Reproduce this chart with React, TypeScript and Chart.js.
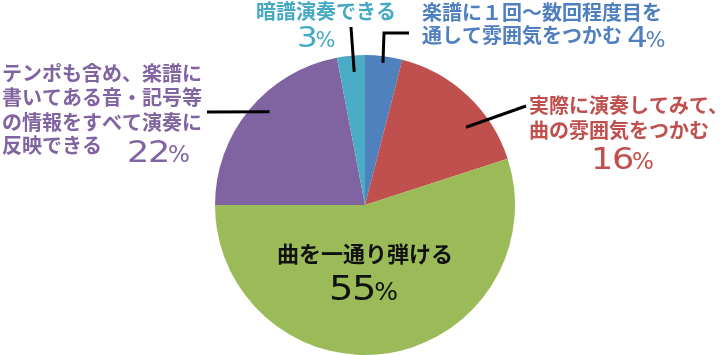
import React, { useEffect, useRef } from "react";
import { Chart, registerables } from "chart.js";

Chart.register(...registerables);

const categories = [
  "楽譜に１回～数回程度目を通して雰囲気をつかむ",
  "実際に演奏してみて、曲の雰囲気をつかむ",
  "曲を一通り弾ける",
  "テンポも含め、楽譜に書いてある音・記号等の情報をすべて演奏に反映できる",
  "暗譜演奏できる",
];
const values = [4, 16, 55, 22, 3];
const sliceColors = ["#4f81bd", "#c0504d", "#9bbb59", "#8064a2", "#4bacc6"];
const textColors = ["#4f7fbf", "#c0504d", "#111111", "#8064a2", "#45a9c5"];
const labelLines = [
  ["楽譜に１回～数回程度目を", "通して雰囲気をつかむ"],
  ["実際に演奏してみて、", "曲の雰囲気をつかむ"],
  ["曲を一通り弾ける"],
  ["テンポも含め、楽譜に", "書いてある音・記号等", "の情報をすべて演奏に", "反映できる"],
  ["暗譜演奏できる"],
];

// layout of labels (positions only)
const labelLayout = [
  { x: 422, ys: [12, 35], pctX: 627, pctY: 47, digit: 28, lead: { f: 0.5, r: 0.955, pts: [[384, 33], [409, 33]] } },
  { x: 529, ys: [105, 130], pctX: 591, pctY: 169, digit: 30, lead: { f: 0.66, r: 0.85, pts: [[526, 106]] } },
  { x: 277, ys: [254], pctX: 329, pctY: 300, digit: 33, lead: null },
  { x: 2, ys: [73, 97, 122, 145], pctX: 127, pctY: 162, digit: 30, lead: { f: 0.56, r: 0.89, pts: [[207, 112]] } },
  { x: 256, ys: [11], pctX: 297, pctY: 47, digit: 28, lead: { f: 0.57, r: 0.89, pts: [[351, 27]] } },
];

const labelPlugin = {
  id: "pieLabels",
  afterDraw(chart: any) {
    const ctx = chart.ctx as CanvasRenderingContext2D;
    const meta = chart.getDatasetMeta(0);
    meta.data.forEach((arc: any, i: number) => {
      const L = labelLayout[i];
      const { x: cx, y: cy, startAngle, endAngle, outerRadius } = arc.getProps(
        ["x", "y", "startAngle", "endAngle", "outerRadius"],
        true
      );
      if (L.lead) {
        const a = startAngle + (endAngle - startAngle) * L.lead.f;
        const r = outerRadius * L.lead.r;
        ctx.save();
        ctx.strokeStyle = "#000";
        ctx.lineWidth = 3;
        ctx.beginPath();
        ctx.moveTo(cx + Math.cos(a) * r, cy + Math.sin(a) * r);
        L.lead.pts.forEach((p) => ctx.lineTo(p[0], p[1]));
        ctx.stroke();
        ctx.restore();
      }
      ctx.save();
      ctx.fillStyle = textColors[i];
      ctx.textBaseline = "middle";
      ctx.textAlign = "left";
      const fs = i === 2 ? 22 : 20;
      ctx.font = `bold ${fs}px "Noto Sans CJK JP"`;
      labelLines[i].forEach((t, k) => ctx.fillText(t, L.x, L.ys[k]));
      // percentage
      ctx.textBaseline = "alphabetic";
      const digits = String(values[i]);
      const d = L.digit;
      ctx.font = `${d}px "DejaVu Sans"`;
      const sx = 1.17;
      const adv = ctx.measureText("0").width * sx * 0.94;
      let px = L.pctX;
      for (const ch of digits) {
        ctx.save();
        ctx.translate(px, L.pctY);
        ctx.scale(sx, 1);
        ctx.fillText(ch, 0, 0);
        ctx.restore();
        px += adv;
      }
      ctx.font = `${Math.round(d * 0.76)}px "DejaVu Sans"`;
      ctx.fillText("%", px - 1, L.pctY);
      ctx.restore();
    });
  },
};

export default function App() {
  const ref = useRef<HTMLCanvasElement>(null);
  useEffect(() => {
    document.body.style.margin = "0";
    const chart = new Chart(ref.current!, {
      type: "pie",
      data: {
        labels: categories,
        datasets: [
          {
            data: values,
            backgroundColor: sliceColors,
            borderWidth: 0,
          },
        ],
      },
      options: {
        animation: false,
        responsive: false,
        devicePixelRatio: 1,
        layout: { padding: { left: 215, right: 205, top: 55, bottom: 0 } },
        plugins: {
          legend: { display: false },
          tooltip: { enabled: false },
        },
      },
      plugins: [labelPlugin],
    });
    return () => chart.destroy();
  }, []);
  return (
    <div style={{ position: "absolute", left: 0, top: 0, width: 720, height: 355, background: "#fff" }}>
      <canvas ref={ref} width={720} height={355} />
    </div>
  );
}
